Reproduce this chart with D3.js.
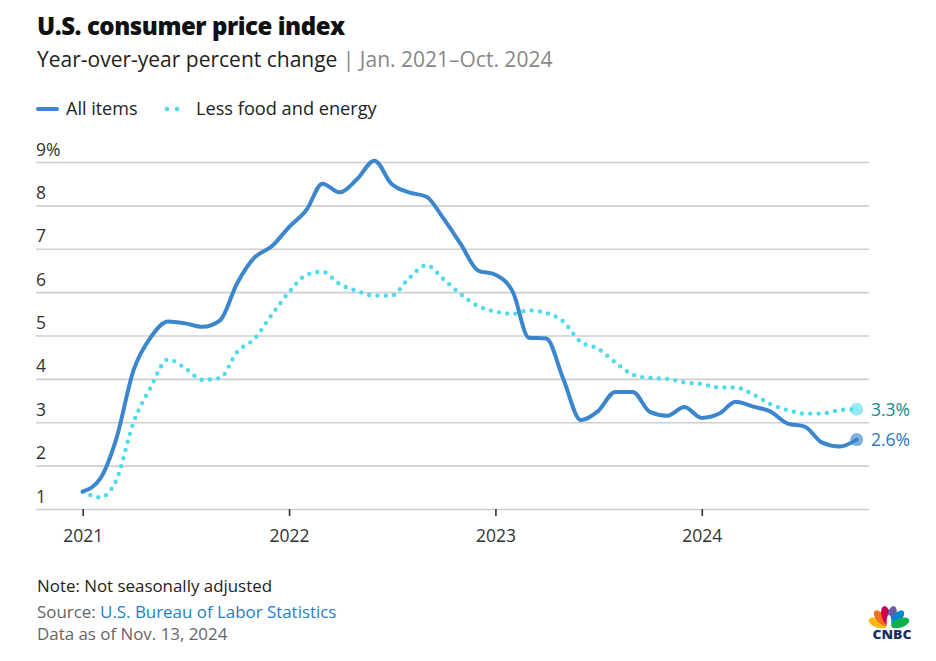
<!DOCTYPE html>
<html>
<head>
<meta charset="utf-8">
<script src="https://cdn.jsdelivr.net/npm/d3@7"></script>
<style>
  html, body { margin: 0; padding: 0; background: #fff; }
  svg { display: block; font-family: "Open Sans", Lato, sans-serif; }
</style>
</head>
<body>
<svg id="chart" width="936" height="661"></svg>
<script>
// ---- Data ----
const allItems = [1.4, 1.7, 2.6, 4.2, 4.95, 5.32, 5.28, 5.2, 5.35, 6.2, 6.8, 7.05,
                  7.5, 7.9, 8.5, 8.3, 8.6, 9.03, 8.5, 8.3, 8.2, 7.7, 7.1, 6.5,
                  6.4, 6.0, 4.95, 4.93, 4.0, 3.05, 3.25, 3.7, 3.7, 3.24, 3.15, 3.35,
                  3.1, 3.2, 3.47, 3.36, 3.25, 2.97, 2.9, 2.53, 2.44, 2.6];
const lessFoodEnergy = [1.4, 1.27, 1.65, 3.0, 3.8, 4.45, 4.25, 3.98, 4.02, 4.62, 4.93, 5.47,
                        6.0, 6.4, 6.47, 6.18, 6.03, 5.92, 5.92, 6.32, 6.62, 6.3, 5.95, 5.68,
                        5.55, 5.5, 5.58, 5.52, 5.32, 4.85, 4.7, 4.38, 4.1, 4.02, 4.0, 3.92,
                        3.88, 3.8, 3.8, 3.64, 3.42, 3.28, 3.2, 3.2, 3.28, 3.3];
const yTicks = [1, 2, 3, 4, 5, 6, 7, 8, 9];
const xTickYears = [2021, 2022, 2023, 2024];
const seriesNames = ["All items", "Less food and energy"];
const endLabels = ["2.6%", "3.3%"];

// ---- Setup ----
const svg = d3.select("#chart");
const months = allItems.map((_, i) => new Date(2021, i, 1));

const x = d3.scaleTime()
  .domain([new Date(2021, 0, 1), new Date(2024, 9, 1)])
  .range([82.7, 856.7]);
const y = d3.scaleLinear().domain([1, 9]).range([509, 162]);

const gridLeft = 36, gridRight = 869;
const blue = "#3b86cc", cyan = "#4edbeb";

// Title block
svg.append("text").attr("x", 37).attr("y", 35)
  .attr("font-size", 24).attr("font-weight", 800).attr("fill", "#111")
  .attr("letter-spacing", -0.45)
  .text("U.S. consumer price index");
const sub = svg.append("text").attr("x", 37).attr("y", 67)
  .attr("font-size", 21).attr("fill", "#222");
sub.append("tspan").text("Year-over-year percent change ");
sub.append("tspan").attr("fill", "#888").text("| Jan. 2021–Oct. 2024");

// Legend
svg.append("line").attr("x1", 38).attr("x2", 57).attr("y1", 109).attr("y2", 109)
  .attr("stroke", blue).attr("stroke-width", 4).attr("stroke-linecap", "round");
svg.append("text").attr("x", 66).attr("y", 115).attr("font-size", 18).attr("fill", "#222")
  .text(seriesNames[0]);
[167, 177].forEach(cx => svg.append("circle").attr("cx", cx).attr("cy", 109).attr("r", 2.3).attr("fill", cyan));
svg.append("text").attr("x", 196).attr("y", 115).attr("font-size", 18.2).attr("fill", "#222")
  .text(seriesNames[1]);

// Y grid + labels
const yAxis = d3.axisLeft(y).tickValues(yTicks)
  .tickSize(-(gridRight - gridLeft))
  .tickFormat(d => d === 9 ? "9%" : d);
const gy = svg.append("g").attr("transform", `translate(${gridLeft},0)`).call(yAxis);
gy.select(".domain").remove();
gy.selectAll(".tick line").attr("stroke", "#cfcfcf").attr("stroke-width", 1.6);
gy.selectAll(".tick text").attr("x", 0).attr("dy", -7).attr("text-anchor", "start")
  .attr("font-size", 17.5).attr("fill", "#333").attr("font-family", "'Open Sans', sans-serif");

// X axis
const xAxis = d3.axisBottom(x)
  .tickValues(xTickYears.map(yr => new Date(yr, 0, 1)))
  .tickSize(7).tickFormat(d3.timeFormat("%Y"));
const gx = svg.append("g").attr("transform", `translate(0,${y(1)})`).call(xAxis);
gx.select(".domain").remove();
gx.selectAll(".tick line").attr("stroke", "#333").attr("stroke-width", 1.6);
gx.selectAll(".tick text").attr("y", 32.5).attr("dy", 0)
  .attr("font-size", 17.5).attr("fill", "#333").attr("font-family", "'Open Sans', sans-serif");

// Lines
const line = d3.line().x((d, i) => x(months[i])).y(d => y(d)).curve(d3.curveMonotoneX);

svg.append("path").datum(lessFoodEnergy).attr("d", line)
  .attr("fill", "none").attr("stroke", cyan).attr("stroke-width", 4.4)
  .attr("stroke-linecap", "round").attr("stroke-dasharray", "0 8.3");

svg.append("path").datum(allItems).attr("d", line)
  .attr("fill", "none").attr("stroke", blue).attr("stroke-width", 4)
  .attr("stroke-linejoin", "round").attr("stroke-linecap", "round");

// End markers and labels
const last = allItems.length - 1;
svg.append("circle").attr("cx", x(months[last])).attr("cy", y(lessFoodEnergy[last]))
  .attr("r", 6.5).attr("fill", cyan).attr("fill-opacity", 0.6);
svg.append("circle").attr("cx", x(months[last])).attr("cy", y(allItems[last]))
  .attr("r", 6.5).attr("fill", blue).attr("fill-opacity", 0.65);
svg.append("text").attr("x", 871).attr("y", y(lessFoodEnergy[last]) + 6.5)
  .attr("font-size", 17.5).attr("fill", "#168a8c").text(endLabels[1]);
svg.append("text").attr("x", 871).attr("y", y(allItems[last]) + 6.5)
  .attr("font-size", 17.5).attr("fill", "#2a78bd").text(endLabels[0]);

// Footer
svg.append("text").attr("x", 37).attr("y", 592).attr("font-size", 16.9).attr("fill", "#222")
  .text("Note: Not seasonally adjusted");
const src = svg.append("text").attr("x", 37).attr("y", 618).attr("font-size", 16.9).attr("fill", "#666");
src.append("tspan").text("Source: ");
src.append("tspan").attr("fill", "#1f80c8").text("U.S. Bureau of Labor Statistics");
svg.append("text").attr("x", 37).attr("y", 640).attr("font-size", 16.9).attr("fill", "#666")
  .text("Data as of Nov. 13, 2024");

// CNBC logo
const logo = svg.append("g").attr("transform", "translate(889,627)");
const feathers = ["#fcb711", "#f37021", "#cc004c", "#6460aa", "#0089d0", "#0db14b"];
const angles = [-70, -42, -14, 14, 42, 70];
feathers.forEach((c, i) => {
  logo.append("ellipse").attr("cx", 0).attr("cy", -12).attr("rx", 4.6).attr("ry", 9.5)
    .attr("fill", c).attr("transform", `rotate(${angles[i]})`);
});
logo.append("ellipse").attr("cx", 0).attr("cy", -5).attr("rx", 2.4).attr("ry", 7).attr("fill", "#fff");
svg.append("text").attr("x", 892).attr("y", 639).attr("text-anchor", "middle")
  .attr("font-size", 12.5).attr("font-weight", 800).attr("fill", "#1c2f63")
  .attr("font-family", "'Open Sans', sans-serif")
  .attr("textLength", 39).attr("lengthAdjust", "spacingAndGlyphs").text("CNBC");
</script>
</body>
</html>
